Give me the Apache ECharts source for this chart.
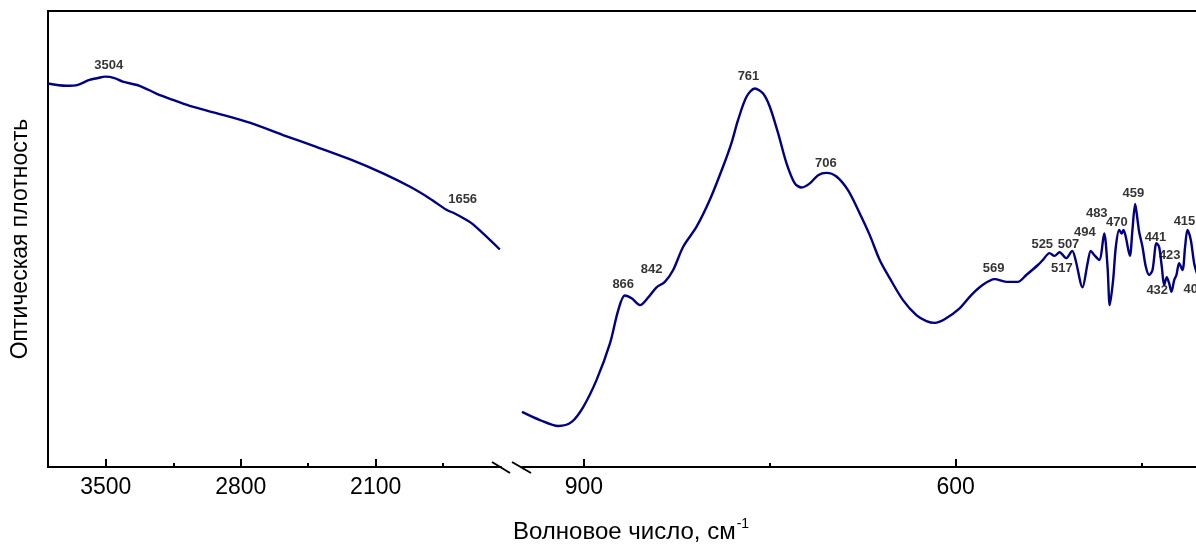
<!DOCTYPE html>
<html>
<head>
<meta charset="utf-8">
<script src="https://cdn.jsdelivr.net/npm/echarts@6/dist/echarts.min.js"></script>
<style>
  html, body { margin: 0; padding: 0; background: #fff; }
  #chart { width: 1196px; height: 544px; }
</style>
</head>
<body>
<div id="chart"></div>
<script>
// high wavenumber part (left of the break)
const leftWn = [3800, 3706, 3645, 3585, 3540, 3504, 3455, 3412, 3325, 3238, 3152, 3065, 2927, 2754, 2581, 2408, 2235, 2062, 1924, 1820, 1733, 1690, 1647, 1595, 1456]
const leftAbs = [84.1, 83.6, 83.8, 84.9, 85.3, 85.6, 85.3, 84.5, 83.6, 81.9, 80.5, 79.2, 77.6, 75.5, 72.8, 70.2, 67.5, 64.4, 61.5, 58.9, 56.4, 55.6, 54.6, 53.2, 47.7]

// low wavenumber part (right of the break)
const rightWn = [950, 935.5, 920.7, 909.9, 900.5, 889.8, 879, 872.3, 867, 861.5, 854.8, 848.1, 841.4, 834.7, 828, 819.9, 809.1, 798.4, 787.7, 780.9, 775.6, 768.8, 762.1, 755.4, 750, 743.3, 736.5, 729.8, 724.4, 717.7, 711, 704.3, 696.2, 686.9, 677.4, 669.4, 661.3, 653.2, 642.5, 631.7, 623.6, 616.9, 608.9, 596.8, 587.4, 579.3, 568.5, 559.1, 549.8, 543, 533.6, 529.6, 524.2, 520.2, 516.1, 510.8, 505.9, 503.2, 497.6, 493.5, 490.9, 488.2, 484.1, 480.1, 477.4, 475.6, 472.9, 470.7, 468, 465.9, 464.5, 462.7, 459.4, 457.3, 455.1, 453.2, 451.9, 449.2, 446.5, 443.8, 441.1, 437.9, 435.8, 433.6, 431.7, 429.6, 427.7, 425.8, 423.6, 421.8, 419.6, 416.9, 414.8, 412.9, 410.2, 407.5, 404.8]
const rightAbs = [12.1, 10.3, 9.0, 9.9, 13.2, 19.1, 27.1, 34.4, 37.6, 37.0, 35.5, 37.2, 39.4, 40.6, 43.2, 48.3, 52.7, 58.6, 65.9, 71.1, 76.1, 81.2, 83.0, 81.9, 79.0, 73.2, 66.6, 62.2, 61.3, 62.2, 64.0, 64.5, 63.7, 60.7, 55.6, 50.9, 45.4, 41.4, 36.6, 33.3, 32.0, 31.6, 32.4, 34.8, 37.7, 39.7, 41.2, 40.6, 40.6, 42.1, 44.3, 45.4, 46.9, 46.3, 47.1, 45.8, 47.4, 45.4, 39.4, 44.7, 47.4, 46.5, 45.4, 51.2, 43.9, 35.5, 41.0, 48.3, 52.0, 51.2, 52.0, 50.5, 46.3, 52.0, 57.7, 54.2, 51.6, 48.3, 43.9, 42.1, 43.2, 49.1, 48.3, 43.9, 39.9, 41.6, 40.3, 38.4, 41.0, 42.1, 44.7, 43.2, 48.3, 52.0, 49.8, 44.7, 42.1]

// peak labels: text, and where the text sits (wavenumber, absorbance)
const leftPeakText = ['3504', '1656']
const leftPeakWn = [3485, 1649]
const leftPeakAbs = [88.1, 58.6]

const rightPeakText = ['866', '842', '761', '706', '569', '525', '507', '517', '494', '483', '470', '459', '441', '423', '432', '415', '406']
const rightPeakWn = [868.3, 845.4, 767.2, 704.8, 569.4, 530.1, 508.9, 514.3, 495.7, 486.1, 469.9, 456.5, 438.7, 427.2, 437.3, 415.3, 407.3]
const rightPeakAbs = [40.0, 43.3, 85.7, 66.5, 43.6, 48.9, 48.9, 43.6, 51.4, 55.7, 53.7, 59.9, 50.4, 46.5, 38.7, 53.8, 38.9]

// axis ticks
const leftMajor = [3500, 2800, 2100]
const leftMinor = [3150, 2450, 1750]
const rightMajor = [900, 600]
const rightMinor = [750, 450]

const lineColor = '#000080'
const font = '"Liberation Sans", Arial, sans-serif'

const chart = echarts.init(document.getElementById('chart'))

function zip(a, b, c) {
  return a.map((v, i) => c ? [v, b[i], c[i]] : [v, b[i]])
}

function mainX(grid, min, max, major) {
  return {
    type: 'value', gridIndex: grid, min: min, max: max, inverse: true,
    position: 'bottom',
    splitLine: { show: false },
    axisLine: { show: true, onZero: false, lineStyle: { color: '#000', width: 2 } },
    axisTick: { show: true, inside: true, length: 8, customValues: major, lineStyle: { color: '#000', width: 2 } },
    axisLabel: {
      show: true, customValues: major, color: '#000', fontSize: 23, fontFamily: font, margin: 9,
      formatter: v => String(v)
    }
  }
}

function minorX(grid, min, max, minor) {
  return {
    type: 'value', gridIndex: grid, min: min, max: max, inverse: true,
    position: 'bottom',
    splitLine: { show: false },
    axisLine: { show: false, onZero: false },
    axisTick: { show: true, inside: true, length: 4, customValues: minor, lineStyle: { color: '#000', width: 2 } },
    axisLabel: { show: false }
  }
}

const peakLabel = {
  show: true,
  position: 'inside',
  formatter: p => p.value[2],
  color: '#000',
  fontSize: 13,
  fontWeight: 'bold',
  fontFamily: font
}

chart.setOption({
  backgroundColor: '#fff',
  animation: false,
  title: {
    text: '{a|Волновое число, см}{b|-1}',
    left: 508,
    top: 512,
    textStyle: {
      fontWeight: 'normal',
      rich: {
        a: { fontSize: 24, fontWeight: 'normal', fontFamily: font, color: '#000', lineHeight: 30 },
        b: { fontSize: 14, fontWeight: 'normal', fontFamily: font, color: '#000', verticalAlign: 'top', lineHeight: 30, padding: [0, 0, 10, 1] }
      }
    }
  },
  grid: [
    { left: 48, top: 11, width: 453, height: 456 },
    { left: 522, top: 11, right: 0, height: 456 }
  ],
  xAxis: [
    mainX(0, 1450, 3800, leftMajor),
    minorX(0, 1450, 3800, leftMinor),
    mainX(1, 406, 950, rightMajor),
    minorX(1, 406, 950, rightMinor)
  ],
  yAxis: [
    {
      type: 'value', gridIndex: 0, min: 0, max: 100,
      name: 'Оптическая плотность',
      nameLocation: 'middle',
      nameGap: 16,
      nameTextStyle: { fontSize: 23, fontFamily: font, color: '#000' },
      splitLine: { show: false },
      axisLine: { show: true, lineStyle: { color: '#000', width: 2 } },
      axisTick: { show: false },
      axisLabel: { show: false }
    },
    {
      type: 'value', gridIndex: 1, min: 0, max: 100, show: false,
      splitLine: { show: false }
    }
  ],
  graphic: [
    // top frame line and the axis break marks
    { type: 'line', shape: { x1: 47, y1: 11, x2: 1196, y2: 11 }, style: { stroke: '#000', lineWidth: 2 } },
    { type: 'line', shape: { x1: 492, y1: 462, x2: 510, y2: 473 }, style: { stroke: '#000', lineWidth: 2 } },
    { type: 'line', shape: { x1: 512, y1: 462, x2: 531, y2: 473 }, style: { stroke: '#000', lineWidth: 2 } }
  ],
  series: [
    {
      type: 'line', xAxisIndex: 0, yAxisIndex: 0,
      data: zip(leftWn, leftAbs),
      smooth: 0.3, showSymbol: false,
      lineStyle: { color: lineColor, width: 2.4 }
    },
    {
      type: 'line', xAxisIndex: 2, yAxisIndex: 1,
      data: zip(rightWn, rightAbs),
      smooth: 0.3, showSymbol: false, clip: false,
      lineStyle: { color: lineColor, width: 2.4 }
    },
    {
      type: 'scatter', xAxisIndex: 0, yAxisIndex: 0, symbolSize: 0,
      data: zip(leftPeakWn, leftPeakAbs, leftPeakText),
      label: peakLabel
    },
    {
      type: 'scatter', xAxisIndex: 2, yAxisIndex: 1, symbolSize: 0,
      data: zip(rightPeakWn, rightPeakAbs, rightPeakText),
      label: peakLabel
    }
  ]
})
</script>
</body>
</html>
